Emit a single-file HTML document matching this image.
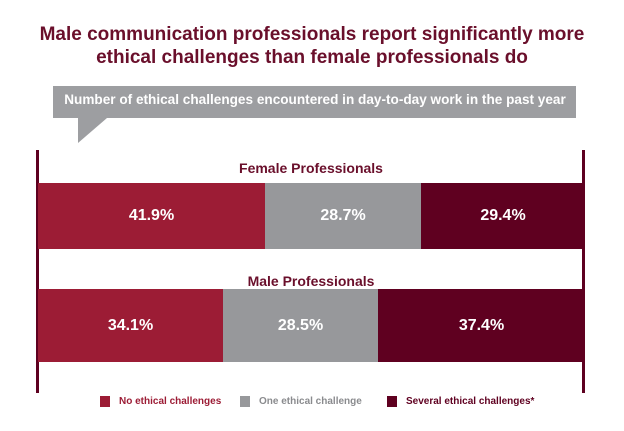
<!DOCTYPE html>
<html><head><style>
body{margin:0;width:624px;height:431px;background:#fff;font-family:"Liberation Sans",sans-serif;position:relative;overflow:hidden}
.a{position:absolute}
.t{left:0;width:624px;text-align:center;color:#6a0f2b;font-weight:bold;font-size:19px;line-height:23px;top:23px}
.seg{position:absolute;color:#fff;font-weight:bold;font-size:16px;display:flex;align-items:center;justify-content:center}
.lab{left:38px;width:546px;text-align:center;color:#6a0f2b;font-weight:bold;font-size:14px}
.lg{top:396px;font-size:10px;font-weight:bold}
.sq{position:absolute;top:396px;width:10px;height:11px}
</style></head><body>
<div class="a t">Male communication professionals report significantly more<br>ethical challenges than female professionals do</div>
<svg class="a" style="left:0;top:0" width="624" height="431">
<rect x="53" y="86" width="523" height="32" fill="#9d9ea1"/>
<polygon points="78,118 107,118 78,143" fill="#9d9ea1"/>
<rect x="36" y="150" width="3" height="243" fill="#5e0020"/>
<rect x="582" y="150" width="3" height="243" fill="#5e0020"/>
</svg>
<div class="a" style="left:58px;top:92px;width:514px;text-align:center;color:#fff;font-weight:bold;font-size:13.6px">Number of ethical challenges encountered in day-to-day work in the past year</div>
<div class="a lab" style="top:160px">Female Professionals</div>
<div class="seg" style="left:38px;top:183px;width:227px;height:66px;background:#9c1c35">41.9%</div>
<div class="seg" style="left:265px;top:183px;width:156px;height:66px;background:#97989b">28.7%</div>
<div class="seg" style="left:421px;top:183px;width:164px;height:66px;background:#5f0020">29.4%</div>
<div class="a lab" style="top:273px">Male Professionals</div>
<div class="seg" style="left:38px;top:289px;width:185px;height:73px;background:#9c1c35">34.1%</div>
<div class="seg" style="left:223px;top:289px;width:155px;height:73px;background:#97989b">28.5%</div>
<div class="seg" style="left:378px;top:289px;width:207px;height:73px;background:#5f0020">37.4%</div>
<div class="sq" style="left:100px;background:#9c1c35"></div>
<div class="a lg" style="left:119px;color:#9c1c35">No ethical challenges</div>
<div class="sq" style="left:240px;background:#97989b"></div>
<div class="a lg" style="left:259px;color:#8a8b8e">One ethical challenge</div>
<div class="sq" style="left:387px;background:#5f0020"></div>
<div class="a lg" style="left:406px;color:#5f0020">Several ethical challenges*</div>
</body></html>
